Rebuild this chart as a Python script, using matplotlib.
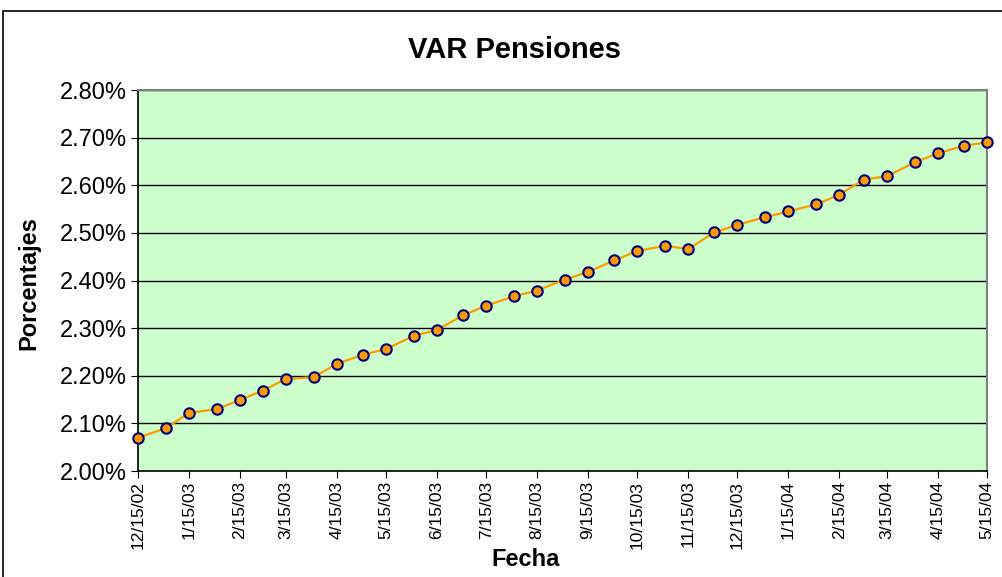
import datetime as dt
import numpy as np
import matplotlib
matplotlib.use("Agg")
from matplotlib import pyplot as plt
from matplotlib import dates as mdates
from matplotlib import ticker

plt.rcParams['font.family'] = ['Liberation Sans', 'DejaVu Sans']

# semi-monthly observations, 12/15/02 .. 5/15/04 (1st and 15th of each month)
start = dt.date(2002, 12, 15)
end = dt.date(2004, 5, 15)
fechas = []
y, m = 2002, 12
while True:
    for d in (1, 15):
        f = dt.date(y, m, d)
        if start <= f <= end:
            fechas.append(f)
    if (y, m) == (end.year, end.month):
        break
    m += 1
    if m > 12:
        m, y = 1, y + 1

var_pct = [2.070, 2.090, 2.122, 2.130, 2.149, 2.169, 2.193, 2.197, 2.225, 2.244,
           2.256, 2.284, 2.296, 2.327, 2.347, 2.367, 2.379, 2.402, 2.418, 2.442,
           2.462, 2.473, 2.466, 2.501, 2.517, 2.533, 2.545, 2.560, 2.580, 2.612,
           2.619, 2.648, 2.667, 2.683, 2.690]

tick_dates = [f for f in fechas if f.day == 15]

fig = plt.figure(figsize=(10.03, 5.77), dpi=100)
fig.patch.set_facecolor('white')

# outer chart border
fig.add_artist(plt.Rectangle((3 / 1003, -0.01), 1.02, 1 - 11 / 577 + 0.01,
                             transform=fig.transFigure, fill=False,
                             edgecolor='black', linewidth=1.2))

ax = fig.add_axes([138 / 1003, 1 - 471 / 577, (987 - 138) / 1003, (471 - 90) / 577])
ax.set_facecolor('#CCFFCC')

ax.plot(fechas, var_pct, color='#FF9900', linewidth=1.6, marker='o',
        markersize=7.5, markerfacecolor='#FF9900', markeredgecolor='#000080',
        markeredgewidth=1.5, clip_on=False, zorder=3)

ax.set_xlim(mdates.date2num(start), mdates.date2num(end))
ax.set_ylim(2.0, 2.8)
ax.yaxis.set_major_locator(ticker.MultipleLocator(0.1))
ax.yaxis.set_major_formatter(ticker.FuncFormatter(lambda v, p: "%.2f%%" % v))
ax.grid(axis='y', color='black', linewidth=1.0)
ax.set_axisbelow(True)

ax.set_xticks([mdates.date2num(f) for f in tick_dates])
ax.set_xticklabels(["%d/%d/%02d" % (f.month, f.day, f.year % 100) for f in tick_dates],
                   rotation=90, fontsize=12.5)
ax.tick_params(axis='y', labelsize=17, length=5, direction='out', pad=3)
ax.tick_params(axis='x', length=5, direction='out', pad=2)

for s in ('top', 'right'):
    ax.spines[s].set_color('#808080')
    ax.spines[s].set_linewidth(1.5)
for s in ('left', 'bottom'):
    ax.spines[s].set_color('black')
    ax.spines[s].set_linewidth(1.2)

fig.text(515 / 1003, 1 - 50 / 577, "VAR Pensiones", ha='center', va='center',
         fontsize=21, fontweight='bold')
fig.text(526 / 1003, 1 - 560 / 577, "Fecha", ha='center', va='center',
         fontsize=17, fontweight='bold')
fig.text(29 / 1003, 1 - 283 / 577, "Porcentajes", ha='center', va='center',
         rotation=90, fontsize=17, fontweight='bold')

fig.savefig("out.png", dpi=100)
